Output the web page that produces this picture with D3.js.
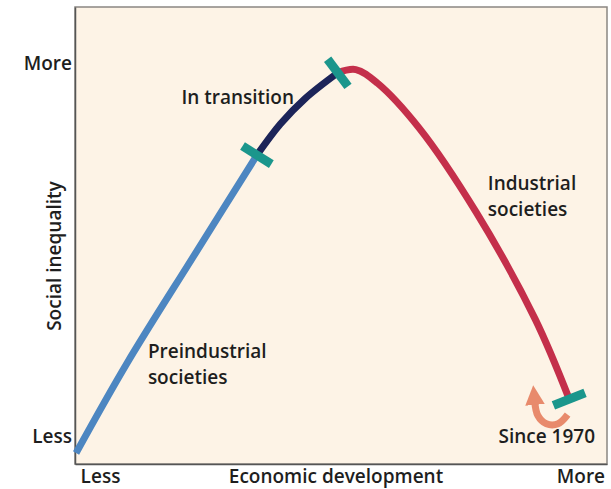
<!DOCTYPE html>
<html>
<head>
<meta charset="utf-8">
<script src="https://cdn.jsdelivr.net/npm/d3@7"></script>
<style>
  html, body { margin: 0; padding: 0; background: #ffffff; }
  svg { display: block; }
  text { font-family: "Open Sans", "DejaVu Sans", sans-serif; font-weight: 600; fill: #1e1e1e; }
</style>
</head>
<body>
<svg id="chart" width="611" height="489"></svg>
<script>
// ---- Data (x: economic development 0-100, y: social inequality 0-100) ----
const preindustrial = [
  [0.2, 2.4], [9.8, 22.1], [22.2, 45.3], [34.2, 67.6]
];
const transition = [
  [34.2, 67.6], [38.6, 74.4], [43.2, 79.9], [49.4, 85.6]
];
const industrial = [
  [49.4, 85.6], [52.8, 86.3], [56.8, 83.4], [64.7, 73.5], [75.4, 55.1], [86.5, 31.7], [92.9, 14.2]
];
const since1970Arrow = [
  [92.6, 10.8], [90.8, 8.8], [88.6, 8.8], [87.0, 10.6], [86.4, 13.8]
];
const segmentNames = ["Preindustrial", "In transition", "Industrial"];
const segmentColors = ["#4d86c1", "#1c2459", "#c42f4b"];
const xTickLabels = ["Less", "More"];
const xTickValues = [4.7, 95.0];
const yTickLabels = ["Less", "More"];
const yTickValues = [6.0, 87.7];
const xTitle = "Economic development";
const yTitle = "Social inequality";
const annotations = [
  { lines: ["In transition"], x: 20.0, y: 78.8 },
  { lines: ["Preindustrial", "societies"], x: 13.7, y: 23.2 },
  { lines: ["Industrial", "societies"], x: 77.6, y: 60.0 },
  { lines: ["Since 1970"], x: 79.6, y: 4.6 }
];

// ---- Layout ----
const W = 611, H = 489, FS = 19;
const margin = { left: 75, right: 4, top: 7, bottom: 25 };
const svg = d3.select("#chart");
const x = d3.scaleLinear().domain([0, 100]).range([margin.left, W - margin.right]);
const y = d3.scaleLinear().domain([0, 100]).range([H - margin.bottom, margin.top]);

// background panel
svg.append("rect")
  .attr("x", x(0)).attr("y", y(100))
  .attr("width", x(100) - x(0)).attr("height", y(0) - y(100))
  .attr("fill", "#fdf3e6")
  .attr("stroke", "#8a8782").attr("stroke-width", 1.5);

// axes (labels only)
const xAxis = d3.axisBottom(x).tickValues(xTickValues)
  .tickFormat((d, i) => xTickLabels[i]).tickSize(0).tickPadding(5);
const gx = svg.append("g").attr("transform", `translate(0,${y(0)})`).call(xAxis);
gx.select(".domain").attr("stroke", "#555").attr("stroke-width", 1.5);
gx.selectAll("text").attr("font-size", FS).attr("fill", "#1e1e1e")
  .style("font-family", "'Open Sans', sans-serif").style("font-weight", 600);

const yAxis = d3.axisLeft(y).tickValues(yTickValues)
  .tickFormat((d, i) => yTickLabels[i]).tickSize(0).tickPadding(3);
const gy = svg.append("g").attr("transform", `translate(${x(0)},0)`).call(yAxis);
gy.select(".domain").attr("stroke", "#555").attr("stroke-width", 1.5);
gy.selectAll("text").attr("font-size", FS).attr("fill", "#1e1e1e")
  .style("font-family", "'Open Sans', sans-serif").style("font-weight", 600);

svg.append("text").attr("x", (x(0) + x(100)) / 2 - 5).attr("y", H - 6)
  .attr("text-anchor", "middle").attr("font-size", FS).text(xTitle);
svg.append("text").attr("transform", `translate(61,${y(45.5)}) rotate(-90)`)
  .attr("text-anchor", "middle").attr("font-size", FS).text(yTitle);

// curve segments
const line = d3.line().x(d => x(d[0])).y(d => y(d[1])).curve(d3.curveCatmullRom.alpha(0.5));
const segments = [preindustrial, transition, industrial];
const paths = segments.map((seg, i) =>
  svg.append("path").datum(seg).attr("d", line)
    .attr("fill", "none").attr("stroke", segmentColors[i])
    .attr("stroke-width", 7).attr("stroke-linecap", "butt")
    .attr("data-name", segmentNames[i])
);

// orange "since 1970" rebound arrow
const defs = svg.append("defs");
defs.append("marker").attr("id", "arrowhead")
  .attr("viewBox", "0 0 10 10").attr("refX", 2).attr("refY", 5)
  .attr("markerWidth", 2.8).attr("markerHeight", 2.8).attr("orient", "auto")
  .append("path").attr("d", "M0,0 L10,5 L0,10 Z").attr("fill", "#e88a6c");
svg.append("path").datum(since1970Arrow).attr("d", line)
  .attr("fill", "none").attr("stroke", "#e88a6c").attr("stroke-width", 7)
  .attr("marker-end", "url(#arrowhead)");

// teal boundary ticks, perpendicular to the curve at each segment boundary
function tickAt(pathSel) {
  const node = pathSel.node();
  const L = node.getTotalLength();
  const a = node.getPointAtLength(L - 4);
  const b = node.getPointAtLength(L);
  const ang = Math.atan2(b.y - a.y, b.x - a.x) * 180 / Math.PI;
  svg.append("rect")
    .attr("x", -4.5).attr("y", -17).attr("width", 9).attr("height", 34)
    .attr("fill", "#1b968c")
    .attr("transform", `translate(${b.x},${b.y}) rotate(${ang})`);
}
paths.forEach(p => tickAt(p));

// annotations
annotations.forEach(a => {
  const t = svg.append("text").attr("x", x(a.x)).attr("y", y(a.y))
    .attr("text-anchor", "start").attr("font-size", FS);
  a.lines.forEach((ln, i) => {
    t.append("tspan").attr("x", x(a.x)).attr("dy", i === 0 ? 0 : 26).text(ln);
  });
});
</script>
</body>
</html>
